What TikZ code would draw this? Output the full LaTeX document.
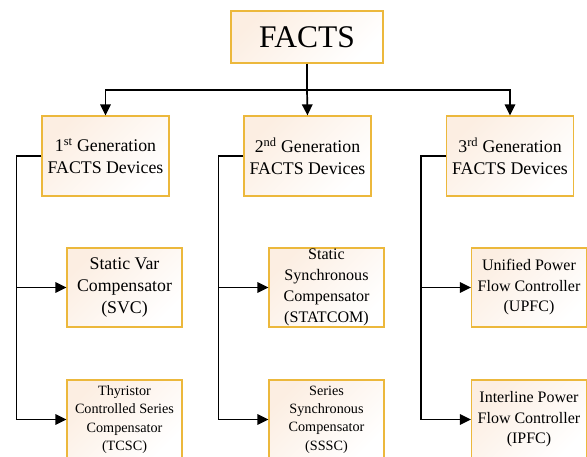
\documentclass[tikz,border=0pt]{standalone}
\usepackage{fontspec}
\setmainfont{Liberation Serif}
\usetikzlibrary{arrows.meta,positioning}
\definecolor{boxline}{RGB}{236,184,60}
\definecolor{boxfill}{RGB}{252,238,226}

\begin{document}
\begin{tikzpicture}[x=1pt, y=-1pt,
  box/.style={draw=boxline, line width=1.3pt, top color=boxfill, bottom color=white,
    shading angle=45, inner sep=0pt, align=center},
  gen/.style={box, minimum width=127pt, minimum height=80pt,
    font=\fontsize{17.8}{21.7}\selectfont},
  dev/.style={box, minimum width=115pt, minimum height=79pt},
  feed/.style={line width=1.7pt},
  link/.style={feed, -{Triangle[length=11pt,width=10.5pt]}}]
  \useasboundingbox (0,0) rectangle (587,456);
  % root
  \node[box, minimum width=152pt, minimum height=52pt,
    font=\fontsize{31.5}{36}\selectfont] (facts) at (307,37) {FACTS};
  % generations
  \node[gen] (g1) at (105.5,156) {1\textsuperscript{st} Generation\\FACTS Devices};
  \node[gen] (g2) at (307.5,156) {2\textsuperscript{nd} Generation\\FACTS Devices};
  \node[gen] (g3) at (510,156) {3\textsuperscript{rd} Generation\\FACTS Devices};
  % devices
  \node[dev, font=\fontsize{17.8}{22}\selectfont] (svc) at (124.5,287.5)
    {Static Var\\Compensator\\(SVC)};
  \node[dev, font=\fontsize{14.2}{18.3}\selectfont] (tcsc) at (124.5,419.5)
    {Thyristor\\Controlled Series\\Compensator\\(TCSC)};
  \node[dev, font=\fontsize{16.1}{20.8}\selectfont] (statcom) at (326.5,287.5)
    {Static\\Synchronous\\Compensator\\(STATCOM)};
  \node[dev, font=\fontsize{14.2}{18.3}\selectfont] (sssc) at (326.5,419.5)
    {Series\\Synchronous\\Compensator\\(SSSC)};
  \node[dev, font=\fontsize{16}{20.5}\selectfont] (upfc) at (529,287.5)
    {Unified Power\\Flow Controller\\(UPFC)};
  \node[dev, font=\fontsize{16}{20.5}\selectfont] (ipfc) at (529,419.5)
    {Interline Power\\Flow Controller\\(IPFC)};
  % connectors
  \draw[feed] (facts.south) -- ++(0,26) coordinate (hub);
  \draw[link] (hub) -| (g1.north);
  \draw[link] (hub) -- (g2.north);
  \draw[link] (hub) -| (g3.north);
  \draw[link] (g1.west) -- ++(-25,0) coordinate (b1) |- (tcsc.west);
  \draw[link] (b1) |- (svc.west);
  \draw[link] (g2.west) -- ++(-25,0) coordinate (b2) |- (sssc.west);
  \draw[link] (b2) |- (statcom.west);
  \draw[link] (g3.west) -- ++(-25,0) coordinate (b3) |- (ipfc.west);
  \draw[link] (b3) |- (upfc.west);
\end{tikzpicture}
\end{document}
